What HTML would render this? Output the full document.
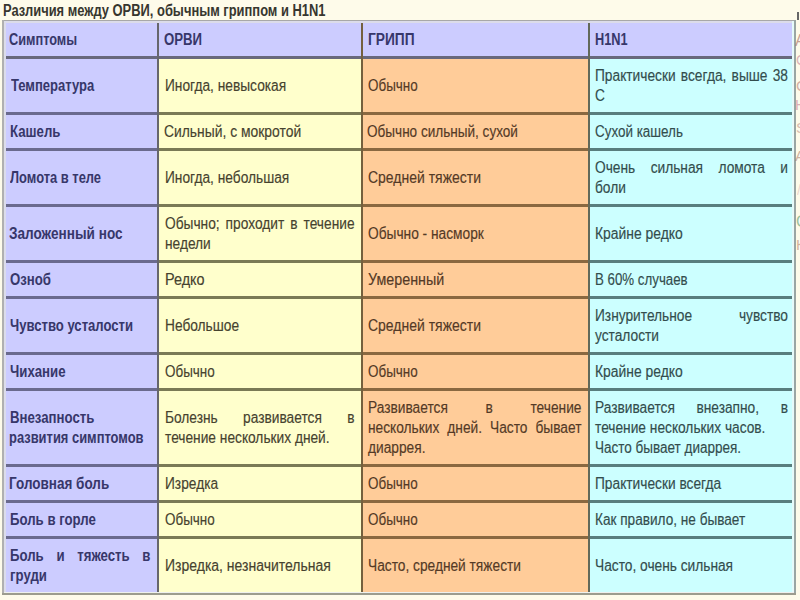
<!DOCTYPE html>
<html><head><meta charset="utf-8"><style>
html,body{margin:0;padding:0;}
body{width:800px;height:600px;overflow:hidden;position:relative;background:#fefbea;font-family:"Liberation Sans",sans-serif;}
#w{position:absolute;left:0;top:0;width:800px;height:600px;}
.b{position:absolute;}
.t{position:absolute;-webkit-text-stroke:0.15px currentColor;font-size:16px;line-height:20px;height:20px;white-space:nowrap;transform-origin:0 0;}
.bd{font-weight:bold;-webkit-text-stroke:0px currentColor;}
.j{text-align:justify;text-align-last:justify;}
</style></head><body>
<div id="w">
<div class="b" style="left:3px;top:20px;width:156px;height:39px;background:#ccccff"></div>
<div class="b" style="left:158px;top:20px;width:205px;height:39px;background:#ccccff"></div>
<div class="b" style="left:362px;top:20px;width:228px;height:39px;background:#ccccff"></div>
<div class="b" style="left:589px;top:20px;width:207px;height:39px;background:#ccccff"></div>
<div class="b" style="left:3px;top:57px;width:156px;height:58px;background:#ccccff"></div>
<div class="b" style="left:158px;top:57px;width:205px;height:58px;background:#ffffcc"></div>
<div class="b" style="left:362px;top:57px;width:228px;height:58px;background:#ffcc99"></div>
<div class="b" style="left:589px;top:57px;width:207px;height:58px;background:#ccffff"></div>
<div class="b" style="left:3px;top:113px;width:156px;height:38px;background:#ccccff"></div>
<div class="b" style="left:158px;top:113px;width:205px;height:38px;background:#ffffcc"></div>
<div class="b" style="left:362px;top:113px;width:228px;height:38px;background:#ffcc99"></div>
<div class="b" style="left:589px;top:113px;width:207px;height:38px;background:#ccffff"></div>
<div class="b" style="left:3px;top:149px;width:156px;height:58px;background:#ccccff"></div>
<div class="b" style="left:158px;top:149px;width:205px;height:58px;background:#ffffcc"></div>
<div class="b" style="left:362px;top:149px;width:228px;height:58px;background:#ffcc99"></div>
<div class="b" style="left:589px;top:149px;width:207px;height:58px;background:#ccffff"></div>
<div class="b" style="left:3px;top:205px;width:156px;height:58px;background:#ccccff"></div>
<div class="b" style="left:158px;top:205px;width:205px;height:58px;background:#ffffcc"></div>
<div class="b" style="left:362px;top:205px;width:228px;height:58px;background:#ffcc99"></div>
<div class="b" style="left:589px;top:205px;width:207px;height:58px;background:#ccffff"></div>
<div class="b" style="left:3px;top:261px;width:156px;height:38px;background:#ccccff"></div>
<div class="b" style="left:158px;top:261px;width:205px;height:38px;background:#ffffcc"></div>
<div class="b" style="left:362px;top:261px;width:228px;height:38px;background:#ffcc99"></div>
<div class="b" style="left:589px;top:261px;width:207px;height:38px;background:#ccffff"></div>
<div class="b" style="left:3px;top:297px;width:156px;height:58px;background:#ccccff"></div>
<div class="b" style="left:158px;top:297px;width:205px;height:58px;background:#ffffcc"></div>
<div class="b" style="left:362px;top:297px;width:228px;height:58px;background:#ffcc99"></div>
<div class="b" style="left:589px;top:297px;width:207px;height:58px;background:#ccffff"></div>
<div class="b" style="left:3px;top:353px;width:156px;height:38px;background:#ccccff"></div>
<div class="b" style="left:158px;top:353px;width:205px;height:38px;background:#ffffcc"></div>
<div class="b" style="left:362px;top:353px;width:228px;height:38px;background:#ffcc99"></div>
<div class="b" style="left:589px;top:353px;width:207px;height:38px;background:#ccffff"></div>
<div class="b" style="left:3px;top:389px;width:156px;height:78px;background:#ccccff"></div>
<div class="b" style="left:158px;top:389px;width:205px;height:78px;background:#ffffcc"></div>
<div class="b" style="left:362px;top:389px;width:228px;height:78px;background:#ffcc99"></div>
<div class="b" style="left:589px;top:389px;width:207px;height:78px;background:#ccffff"></div>
<div class="b" style="left:3px;top:465px;width:156px;height:38px;background:#ccccff"></div>
<div class="b" style="left:158px;top:465px;width:205px;height:38px;background:#ffffcc"></div>
<div class="b" style="left:362px;top:465px;width:228px;height:38px;background:#ffcc99"></div>
<div class="b" style="left:589px;top:465px;width:207px;height:38px;background:#ccffff"></div>
<div class="b" style="left:3px;top:501px;width:156px;height:38px;background:#ccccff"></div>
<div class="b" style="left:158px;top:501px;width:205px;height:38px;background:#ffffcc"></div>
<div class="b" style="left:362px;top:501px;width:228px;height:38px;background:#ffcc99"></div>
<div class="b" style="left:589px;top:501px;width:207px;height:38px;background:#ccffff"></div>
<div class="b" style="left:3px;top:537px;width:156px;height:58px;background:#ccccff"></div>
<div class="b" style="left:158px;top:537px;width:205px;height:58px;background:#ffffcc"></div>
<div class="b" style="left:362px;top:537px;width:228px;height:58px;background:#ffcc99"></div>
<div class="b" style="left:589px;top:537px;width:207px;height:58px;background:#ccffff"></div>
<div class="b" style="left:4px;top:56px;width:154px;height:3px;background:#68687c"></div>
<div class="b" style="left:158px;top:56px;width:204px;height:3px;background:#68687c"></div>
<div class="b" style="left:362px;top:56px;width:227px;height:3px;background:#68687c"></div>
<div class="b" style="left:589px;top:56px;width:205px;height:3px;background:#68687c"></div>
<div class="b" style="left:4px;top:112px;width:154px;height:3px;background:#6a6a8e"></div>
<div class="b" style="left:158px;top:112px;width:204px;height:3px;background:#7a7a55"></div>
<div class="b" style="left:362px;top:112px;width:227px;height:3px;background:#8a6840"></div>
<div class="b" style="left:589px;top:112px;width:205px;height:3px;background:#587e7e"></div>
<div class="b" style="left:4px;top:148px;width:154px;height:3px;background:#6a6a8e"></div>
<div class="b" style="left:158px;top:148px;width:204px;height:3px;background:#7a7a55"></div>
<div class="b" style="left:362px;top:148px;width:227px;height:3px;background:#8a6840"></div>
<div class="b" style="left:589px;top:148px;width:205px;height:3px;background:#587e7e"></div>
<div class="b" style="left:4px;top:204px;width:154px;height:3px;background:#6a6a8e"></div>
<div class="b" style="left:158px;top:204px;width:204px;height:3px;background:#7a7a55"></div>
<div class="b" style="left:362px;top:204px;width:227px;height:3px;background:#8a6840"></div>
<div class="b" style="left:589px;top:204px;width:205px;height:3px;background:#587e7e"></div>
<div class="b" style="left:4px;top:260px;width:154px;height:3px;background:#6a6a8e"></div>
<div class="b" style="left:158px;top:260px;width:204px;height:3px;background:#7a7a55"></div>
<div class="b" style="left:362px;top:260px;width:227px;height:3px;background:#8a6840"></div>
<div class="b" style="left:589px;top:260px;width:205px;height:3px;background:#587e7e"></div>
<div class="b" style="left:4px;top:296px;width:154px;height:3px;background:#6a6a8e"></div>
<div class="b" style="left:158px;top:296px;width:204px;height:3px;background:#7a7a55"></div>
<div class="b" style="left:362px;top:296px;width:227px;height:3px;background:#8a6840"></div>
<div class="b" style="left:589px;top:296px;width:205px;height:3px;background:#587e7e"></div>
<div class="b" style="left:4px;top:352px;width:154px;height:3px;background:#6a6a8e"></div>
<div class="b" style="left:158px;top:352px;width:204px;height:3px;background:#7a7a55"></div>
<div class="b" style="left:362px;top:352px;width:227px;height:3px;background:#8a6840"></div>
<div class="b" style="left:589px;top:352px;width:205px;height:3px;background:#587e7e"></div>
<div class="b" style="left:4px;top:388px;width:154px;height:3px;background:#6a6a8e"></div>
<div class="b" style="left:158px;top:388px;width:204px;height:3px;background:#7a7a55"></div>
<div class="b" style="left:362px;top:388px;width:227px;height:3px;background:#8a6840"></div>
<div class="b" style="left:589px;top:388px;width:205px;height:3px;background:#587e7e"></div>
<div class="b" style="left:4px;top:464px;width:154px;height:3px;background:#6a6a8e"></div>
<div class="b" style="left:158px;top:464px;width:204px;height:3px;background:#7a7a55"></div>
<div class="b" style="left:362px;top:464px;width:227px;height:3px;background:#8a6840"></div>
<div class="b" style="left:589px;top:464px;width:205px;height:3px;background:#587e7e"></div>
<div class="b" style="left:4px;top:500px;width:154px;height:3px;background:#6a6a8e"></div>
<div class="b" style="left:158px;top:500px;width:204px;height:3px;background:#7a7a55"></div>
<div class="b" style="left:362px;top:500px;width:227px;height:3px;background:#8a6840"></div>
<div class="b" style="left:589px;top:500px;width:205px;height:3px;background:#587e7e"></div>
<div class="b" style="left:4px;top:536px;width:154px;height:3px;background:#6a6a8e"></div>
<div class="b" style="left:158px;top:536px;width:204px;height:3px;background:#7a7a55"></div>
<div class="b" style="left:362px;top:536px;width:227px;height:3px;background:#8a6840"></div>
<div class="b" style="left:589px;top:536px;width:205px;height:3px;background:#587e7e"></div>
<div class="b" style="left:157px;top:20px;width:2px;height:574px;background:#66666c"></div>
<div class="b" style="left:361px;top:20px;width:2px;height:574px;background:#74603e"></div>
<div class="b" style="left:588px;top:20px;width:2px;height:574px;background:#62695a"></div>
<div class="b" style="left:4px;top:21px;width:2px;height:572px;background:#dcdcea"></div>
<div class="b" style="left:4px;top:21px;width:790px;height:2px;background:#dcdcea"></div>
<div class="b" style="left:792px;top:21px;width:2px;height:572px;background:#e6fafa"></div>
<div class="b" style="left:4px;top:592px;width:790px;height:1px;background:#eef0ee"></div>
<div class="b" style="left:2px;top:20px;width:794px;height:1px;background:#a8a8a8"></div>
<div class="b" style="left:2px;top:20px;width:2px;height:575px;background:#b0b0b0"></div>
<div class="b" style="left:794px;top:20px;width:2px;height:575px;background:#9aa6a4"></div>
<div class="b" style="left:2px;top:593px;width:794px;height:2px;background:#9c9c8e"></div>
<div class="t bd" style="left:9.3px;top:30.2px;width:170.3px;transform:scaleX(0.7961);color:#37376a">Симптомы</div>
<div class="t bd" style="left:164.2px;top:30.2px;width:229.7px;transform:scaleX(0.8250);color:#37376a">ОРВИ</div>
<div class="t bd" style="left:367.9px;top:30.2px;width:258.8px;transform:scaleX(0.8588);color:#37376a">ГРИПП</div>
<div class="t bd" style="left:594.5px;top:30.2px;width:233.9px;transform:scaleX(0.7978);color:#37376a">H1N1</div>
<div class="t bd" style="left:10.5px;top:76.1px;width:170.3px;transform:scaleX(0.8134);color:#37376a">Температура</div>
<div class="t" style="left:164.5px;top:76.1px;width:220.9px;transform:scaleX(0.8580);color:#46422f">Иногда, невысокая</div>
<div class="t" style="left:368.0px;top:76.1px;width:248.8px;transform:scaleX(0.8408);color:#543a26">Обычно</div>
<div class="t j" style="left:595.0px;top:66.1px;width:224.9px;transform:scaleX(0.8580);color:#334d4d">Практически всегда, выше 38</div>
<div class="t" style="left:595.0px;top:86.1px;width:224.9px;transform:scaleX(0.8580);color:#334d4d">С</div>
<div class="t bd" style="left:9.9px;top:122.2px;width:170.3px;transform:scaleX(0.8250);color:#37376a">Кашель</div>
<div class="t" style="left:164.3px;top:122.2px;width:220.9px;transform:scaleX(0.8674);color:#46422f">Сильный, с мокротой</div>
<div class="t" style="left:367.4px;top:122.2px;width:248.8px;transform:scaleX(0.8477);color:#543a26">Обычно сильный, сухой</div>
<div class="t" style="left:595.0px;top:122.2px;width:224.9px;transform:scaleX(0.8391);color:#334d4d">Сухой кашель</div>
<div class="t bd" style="left:9.9px;top:168.1px;width:170.3px;transform:scaleX(0.8068);color:#37376a">Ломота в теле</div>
<div class="t" style="left:164.5px;top:168.1px;width:220.9px;transform:scaleX(0.8580);color:#46422f">Иногда, небольшая</div>
<div class="t" style="left:368.0px;top:168.1px;width:248.8px;transform:scaleX(0.8734);color:#543a26">Средней тяжести</div>
<div class="t j" style="left:595.0px;top:158.1px;width:224.9px;transform:scaleX(0.8580);color:#334d4d">Очень сильная ломота и</div>
<div class="t" style="left:595.0px;top:178.1px;width:224.9px;transform:scaleX(0.8580);color:#334d4d">боли</div>
<div class="t bd" style="left:9.3px;top:224.1px;width:170.3px;transform:scaleX(0.8481);color:#37376a">Заложенный нос</div>
<div class="t j" style="left:164.5px;top:214.1px;width:220.9px;transform:scaleX(0.8580);color:#46422f">Обычно; проходит в течение</div>
<div class="t" style="left:164.5px;top:234.1px;width:220.9px;transform:scaleX(0.8580);color:#46422f">недели</div>
<div class="t" style="left:368.0px;top:224.1px;width:248.8px;transform:scaleX(0.8580);color:#543a26">Обычно - насморк</div>
<div class="t" style="left:595.0px;top:224.1px;width:224.9px;transform:scaleX(0.8683);color:#334d4d">Крайне редко</div>
<div class="t bd" style="left:9.9px;top:270.2px;width:170.3px;transform:scaleX(0.8250);color:#37376a">Озноб</div>
<div class="t" style="left:164.5px;top:270.2px;width:220.9px;transform:scaleX(0.9009);color:#46422f">Редко</div>
<div class="t" style="left:368.0px;top:270.2px;width:248.8px;transform:scaleX(0.8940);color:#543a26">Умеренный</div>
<div class="t" style="left:595.0px;top:270.2px;width:224.9px;transform:scaleX(0.8305);color:#334d4d">В 60% случаев</div>
<div class="t bd" style="left:9.9px;top:316.1px;width:170.3px;transform:scaleX(0.8184);color:#37376a">Чувство усталости</div>
<div class="t" style="left:164.5px;top:316.1px;width:220.9px;transform:scaleX(0.8580);color:#46422f">Небольшое</div>
<div class="t" style="left:368.0px;top:316.1px;width:248.8px;transform:scaleX(0.8734);color:#543a26">Средней тяжести</div>
<div class="t j" style="left:595.0px;top:306.1px;width:224.9px;transform:scaleX(0.8580);color:#334d4d">Изнурительное чувство</div>
<div class="t" style="left:595.0px;top:326.1px;width:224.9px;transform:scaleX(0.8580);color:#334d4d">усталости</div>
<div class="t bd" style="left:9.9px;top:362.0px;width:170.3px;transform:scaleX(0.8250);color:#37376a">Чихание</div>
<div class="t" style="left:164.5px;top:362.0px;width:220.9px;transform:scaleX(0.8408);color:#46422f">Обычно</div>
<div class="t" style="left:368.0px;top:362.0px;width:248.8px;transform:scaleX(0.8408);color:#543a26">Обычно</div>
<div class="t" style="left:595.0px;top:362.0px;width:224.9px;transform:scaleX(0.8683);color:#334d4d">Крайне редко</div>
<div class="t bd" style="left:9.9px;top:408.1px;width:170.3px;transform:scaleX(0.8250);color:#37376a">Внезапность</div>
<div class="t bd" style="left:9.3px;top:428.1px;width:170.3px;transform:scaleX(0.8077);color:#37376a">развития симптомов</div>
<div class="t j" style="left:164.5px;top:408.1px;width:220.9px;transform:scaleX(0.8580);color:#46422f">Болезнь развивается в</div>
<div class="t" style="left:164.5px;top:428.1px;width:220.9px;transform:scaleX(0.8580);color:#46422f">течение нескольких дней.</div>
<div class="t j" style="left:368.0px;top:398.1px;width:248.8px;transform:scaleX(0.8580);color:#543a26">Развивается в течение</div>
<div class="t j" style="left:368.0px;top:418.1px;width:248.8px;transform:scaleX(0.8580);color:#543a26">нескольких дней. Часто бывает</div>
<div class="t" style="left:368.0px;top:438.1px;width:248.8px;transform:scaleX(0.8580);color:#543a26">диаррея.</div>
<div class="t j" style="left:595.0px;top:398.1px;width:224.9px;transform:scaleX(0.8580);color:#334d4d">Развивается внезапно, в</div>
<div class="t" style="left:595.0px;top:418.1px;width:224.9px;transform:scaleX(0.8580);color:#334d4d">течение нескольких часов.</div>
<div class="t" style="left:595.3px;top:438.1px;width:224.9px;transform:scaleX(0.8443);color:#334d4d">Часто бывает диаррея.</div>
<div class="t bd" style="left:9.3px;top:474.2px;width:170.3px;transform:scaleX(0.8431);color:#37376a">Головная боль</div>
<div class="t" style="left:164.5px;top:474.2px;width:220.9px;transform:scaleX(0.8580);color:#46422f">Изредка</div>
<div class="t" style="left:368.0px;top:474.2px;width:248.8px;transform:scaleX(0.8408);color:#543a26">Обычно</div>
<div class="t" style="left:595.0px;top:474.2px;width:224.9px;transform:scaleX(0.8580);color:#334d4d">Практически всегда</div>
<div class="t bd" style="left:9.9px;top:510.2px;width:170.3px;transform:scaleX(0.8250);color:#37376a">Боль в горле</div>
<div class="t" style="left:164.5px;top:510.2px;width:220.9px;transform:scaleX(0.8408);color:#46422f">Обычно</div>
<div class="t" style="left:368.0px;top:510.2px;width:248.8px;transform:scaleX(0.8408);color:#543a26">Обычно</div>
<div class="t" style="left:595.1px;top:510.2px;width:224.9px;transform:scaleX(0.8503);color:#334d4d">Как правило, не бывает</div>
<div class="t bd j" style="left:9.9px;top:546.4px;width:170.3px;transform:scaleX(0.8250);color:#37376a">Боль и тяжесть в</div>
<div class="t bd" style="left:9.9px;top:566.4px;width:170.3px;transform:scaleX(0.8250);color:#37376a">груди</div>
<div class="t" style="left:164.5px;top:556.4px;width:220.9px;transform:scaleX(0.8743);color:#46422f">Изредка, незначительная</div>
<div class="t" style="left:368.0px;top:556.4px;width:248.8px;transform:scaleX(0.8580);color:#543a26">Часто, средней тяжести</div>
<div class="t" style="left:595.0px;top:556.4px;width:224.9px;transform:scaleX(0.8580);color:#334d4d">Часто, очень сильная</div>
<div class="b" style="left:797px;top:12px;width:2px;height:8px;background:#666"></div>
<div class="b" style="left:795px;top:31px;font-size:16px;line-height:20px;color:#b07a70;opacity:0.7">А</div>
<div class="b" style="left:796px;top:50px;font-size:14px;line-height:20px;color:#c07a90;opacity:0.55">С</div>
<div class="b" style="left:796px;top:76px;font-size:15px;line-height:20px;color:#b88078;opacity:0.6">С</div>
<div class="b" style="left:795px;top:95px;font-size:15px;line-height:20px;color:#c0708f;opacity:0.55">Н</div>
<div class="b" style="left:796px;top:118px;font-size:15px;line-height:20px;color:#b88a80;opacity:0.55">S</div>
<div class="b" style="left:795px;top:146px;font-size:15px;line-height:20px;color:#a87868;opacity:0.55">А</div>
<div class="b" style="left:797px;top:180px;font-size:14px;line-height:20px;color:#d0a0a0;opacity:0.4">/</div>
<div class="b" style="left:796px;top:212px;font-size:16px;line-height:20px;color:#5a9a6a;opacity:0.6">G</div>
<div class="b" style="left:796px;top:235px;font-size:15px;line-height:20px;color:#b07a60;opacity:0.55">К</div>
<div class="t bd" style="left:3.4px;top:0.5px;width:420px;transform:scaleX(0.807);color:#37362f;-webkit-text-stroke:0">Различия между ОРВИ, обычным гриппом и H1N1</div>
</div>
</body></html>
